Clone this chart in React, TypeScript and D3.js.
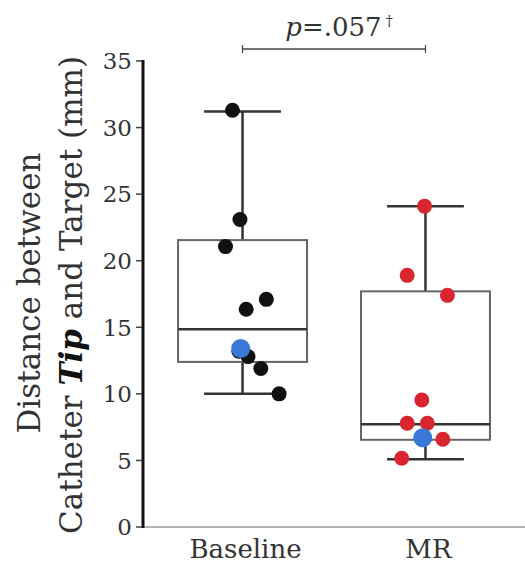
import React from 'react';
import * as d3 from 'd3';

// groups and box summary values (mm)
const groups = ['Baseline', 'MR'];
const whiskerLow = [10.0, 5.08];
const quartile1 = [12.4, 6.55];
const medians = [14.85, 7.72];
const quartile3 = [21.55, 17.7];
const whiskerHigh = [31.2, 24.1];

// individual patients; jitter is a fraction of the band step
const baselineValues = [31.3, 23.1, 21.06, 17.1, 16.35, 13.2, 12.8, 11.9, 10.0];
const baselineJitter = [-0.055, -0.014, -0.093, 0.13, 0.02, -0.02, 0.03, 0.1, 0.2];
const mrValues = [24.1, 18.9, 17.4, 9.54, 7.79, 7.79, 6.59, 5.16];
const mrJitter = [-0.005, -0.1, 0.12, -0.02, -0.1, 0.01, 0.095, -0.13];
// highlighted case
const highlightValues = [13.4, 6.71];
const highlightJitter = [-0.01, -0.015];

const yTicks = [0, 5, 10, 15, 20, 25, 30, 35];
const pLabel = '=.057';

const width = 525;
const height = 566;
const font = '"DejaVu Serif", serif';
const textColor = '#333';

export default function App() {
  const y = d3.scaleLinear().domain([0, 35]).range([527, 61]);
  const x = d3.scalePoint<string>().domain(groups).range([143, 525]).padding(0.544);
  const step = x.step();
  const boxW = step * 0.705;
  const capW = step * 0.42;

  const series = [
    { values: baselineValues, jitter: baselineJitter, color: '#111111' },
    { values: mrValues, jitter: mrJitter, color: '#d9252d' }
  ];

  const x0 = x(groups[0]) as number;
  const x1 = x(groups[1]) as number;

  return (
    <svg width={width} height={height} style={{ position: 'absolute', left: 0, top: 0, background: '#fff' }}>
      {/* y label */}
      <text transform="translate(40,293) rotate(-90)" textAnchor="middle"
        fontFamily={font} fontSize={31} fill={textColor}>Distance between</text>
      <text transform="translate(82,295) rotate(-90)" textAnchor="middle"
        fontFamily={font} fontSize={31} fill={textColor}>
        Catheter <tspan fontWeight="bold" fontStyle="italic" fill="#111">Tip</tspan> and Target (mm)
      </text>

      {/* x axis baseline */}
      <line x1={143} x2={525} y1={y(0)} y2={y(0)} stroke="#b5b5b5" strokeWidth={2} />

      {/* y axis */}
      {yTicks.map((t) => (
        <g key={t}>
          <line x1={136} x2={143} y1={y(t)} y2={y(t)} stroke="#444" strokeWidth={1.5} />
          <text x={132} y={y(t)} dy="0.36em" textAnchor="end" fontFamily={font}
            fontSize={23} fill={textColor}>{t}</text>
        </g>
      ))}
      <line x1={143} x2={143} y1={y(35) - 1} y2={y(0) + 1} stroke="#111" strokeWidth={3} />

      {/* boxes */}
      {groups.map((g, i) => {
        const cx = x(g) as number;
        return (
          <g key={g}>
            <line x1={cx} x2={cx} y1={y(quartile3[i])} y2={y(whiskerHigh[i])} stroke="#333" strokeWidth={2.5} />
            <line x1={cx} x2={cx} y1={y(quartile1[i])} y2={y(whiskerLow[i])} stroke="#333" strokeWidth={2.5} />
            <line x1={cx - capW / 2} x2={cx + capW / 2} y1={y(whiskerHigh[i])} y2={y(whiskerHigh[i])} stroke="#333" strokeWidth={2.5} />
            <line x1={cx - capW / 2} x2={cx + capW / 2} y1={y(whiskerLow[i])} y2={y(whiskerLow[i])} stroke="#333" strokeWidth={2.5} />
            <rect x={cx - boxW / 2} y={y(quartile3[i])} width={boxW}
              height={y(quartile1[i]) - y(quartile3[i])} fill="none" stroke="#666" strokeWidth={2} />
            <line x1={cx - boxW / 2} x2={cx + boxW / 2} y1={y(medians[i])} y2={y(medians[i])} stroke="#333" strokeWidth={2.5} />
          </g>
        );
      })}

      {/* points */}
      {series.map((s, i) => {
        const cx = x(groups[i]) as number;
        return s.values.map((v, j) => (
          <circle key={`${i}-${j}`} cx={cx + s.jitter[j] * step} cy={y(v)} r={7.5} fill={s.color} />
        ));
      })}
      {highlightValues.map((v, i) => (
        <circle key={`h${i}`} cx={(x(groups[i]) as number) + highlightJitter[i] * step} cy={y(v)} r={9.5} fill="#3a78d8" />
      ))}

      {/* significance bracket */}
      <line x1={x0} x2={x1} y1={49} y2={49} stroke="#444" strokeWidth={1.5} />
      <line x1={x0} x2={x0} y1={45} y2={53} stroke="#444" strokeWidth={1.2} />
      <line x1={x1} x2={x1} y1={45} y2={53} stroke="#444" strokeWidth={1.2} />
      <text x={(x0 + x1) / 2 + 5} y={36} textAnchor="middle" fontFamily={font} fontSize={26} fill={textColor}>
        <tspan fontStyle="italic">p</tspan>{pLabel}
        <tspan fontSize={14} dy={-10} dx={4}>†</tspan>
      </text>

      {/* x labels */}
      {groups.map((g) => (
        <text key={g} x={(x(g) as number) + 3} y={558} textAnchor="middle" fontFamily={font}
          fontSize={26} fill={textColor}>{g}</text>
      ))}
    </svg>
  );
}
